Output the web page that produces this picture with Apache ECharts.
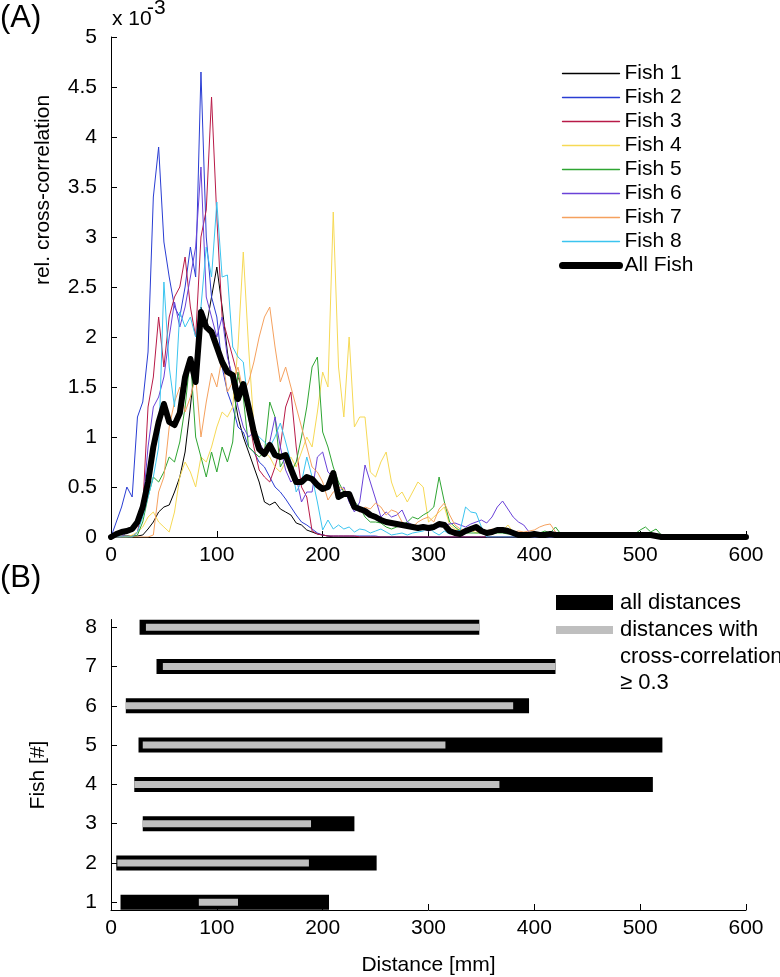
<!DOCTYPE html>
<html>
<head>
<meta charset="utf-8">
<script src="https://cdn.jsdelivr.net/npm/echarts@6/dist/echarts.min.js"></script>
<style>html,body{margin:0;padding:0;background:#fff}#c{width:780px;height:977px}</style>
</head>
<body>
<div id="c"></div>
<script>
// ---------- Panel A data (values in units of 1e-3) ----------
const distance = [
  0,5,10,15,20,25,30,35,40,45,
  50,55,60,65,70,75,80,85,90,95,
  100,105,110,115,120,125,130,135,140,145,
  150,155,160,165,170,175,180,185,190,195,
  200,205,210,215,220,225,230,235,240,245,
  250,255,260,265,270,275,280,285,290,295,
  300,305,310,315,320,325,330,335,340,345,
  350,355,360,365,370,375,380,385,390,395,
  400,405,410,415,420,425,430,435,440,445,
  450,455,460,465,470,475,480,485,490,495,
  500,505,510,515,520,525,530,535,540,545,
  550,555,560,565,570,575,580,585,590,595,
  600];

const fish1 = [
  0,0,0.01,0.01,0.01,0.01,0.02,0.08,0.15,0.25,
  0.3,0.32,0.45,0.6,0.85,1.3,1.8,2.3,2.1,2.4,
  2.7,2.3,1.85,1.5,1.2,1.0,0.85,0.7,0.55,0.35,
  0.32,0.35,0.28,0.25,0.22,0.14,0.12,0.07,0.05,0.03,
  0.02,0.01,0,0,0,0,0,0,0,0,
  0,0,0,0,0,0,0,0,0,0,
  0,0,0,0,0,0,0,0,0,0,
  0,0,0,0,0,0,0,0,0,0,
  0,0,0,0,0,0,0,0,0,0,
  0,0,0,0,0,0,0,0,0,0,
  0,0,0,0,0,0,0,0,0,0,
  0,0,0,0,0,0,0,0,0,0,
  0];
const fish2 = [
  0,0.15,0.3,0.5,0.4,1.2,1.35,1.85,3.4,3.9,
  2.95,2.6,2.3,2.2,2.5,2.9,2.6,4.65,3.0,2.4,
  2.2,1.7,1.45,1.3,1.1,1.05,0.9,0.85,0.75,0.7,
  0.6,0.5,0.45,0.38,0.3,0.22,0.15,0.12,0.08,0.04,
  0.02,0.01,0.01,0.01,0.01,0.01,0.01,0.01,0.01,0.01,
  0.01,0,0,0,0,0,0,0,0,0,
  0,0,0,0,0,0,0,0,0,0,
  0,0,0,0,0,0,0,0,0,0,
  0,0,0,0,0,0,0,0,0,0,
  0,0,0,0,0,0,0,0,0,0,
  0,0,0,0,0,0,0,0,0,0,
  0,0,0,0,0,0,0,0,0,0,
  0];
const fish3 = [
  0,0,0,0,0,0.05,0.3,1.3,1.6,2.2,
  1.7,2.2,2.4,2.5,2.8,2.3,2.0,3.0,3.27,4.4,
  3.2,2.2,2.0,1.8,1.6,1.45,1.2,0.9,0.67,0.6,
  0.55,0.7,0.9,1.3,1.45,0.9,0.5,0.4,0.06,0.03,
  0.02,0.01,0.01,0.01,0.01,0.01,0.01,0,0,0,
  0,0,0,0,0,0,0,0,0,0,
  0,0,0,0,0,0,0,0,0,0,
  0,0,0,0,0,0,0,0,0,0,
  0,0,0,0,0,0,0,0,0,0,
  0,0,0,0,0,0,0,0,0,0,
  0,0,0,0,0,0,0,0,0,0,
  0,0,0,0,0,0,0,0,0,0,
  0];
const fish4 = [
  0,0,0,0,0.02,0.05,0.1,0.2,0.25,0.15,
  0.1,0.05,0.25,0.6,0.75,0.65,0.5,0.8,0.75,0.9,
  1.1,1.25,1.2,1.3,1.9,2.85,1.9,1.1,0.9,0.85,
  0.8,0.7,0.65,0.75,0.8,0.7,0.85,1.0,0.9,1.25,
  1.65,1.5,3.25,1.7,1.2,2.0,1.1,1.2,1.2,0.65,
  0.6,0.75,0.85,0.55,0.4,0.45,0.35,0.45,0.55,0.5,
  0.15,0.2,0.25,0.3,0.12,0.08,0.07,0.05,0.07,0.04,
  0.05,0.06,0.06,0.07,0.06,0.12,0.05,0.04,0.03,0.03,
  0.02,0.03,0.02,0.02,0.03,0.02,0.02,0.02,0.02,0.02,
  0.02,0.02,0.02,0.02,0.02,0.02,0.02,0.02,0.02,0.02,
  0.02,0.02,0.01,0,0,0,0,0,0,0,
  0,0,0,0,0,0,0,0,0,0,
  0];
const fish5 = [
  0,0,0,0,0,0.02,0.15,0.4,0.6,0.55,
  0.65,0.8,0.75,0.95,1.3,1.8,1.0,0.8,0.6,0.85,
  0.65,0.9,0.75,0.95,1.65,1.4,0.9,0.85,0.8,0.85,
  1.35,1.2,0.7,0.8,0.65,0.75,1.0,1.3,1.7,1.8,
  1.05,0.9,0.7,0.55,0.45,0.4,0.35,0.3,0.2,0.15,
  0.15,0.14,0.1,0.08,0.1,0.12,0.15,0.2,0.18,0.22,
  0.25,0.3,0.6,0.35,0.15,0.1,0.06,0.04,0.04,0.04,
  0.04,0.04,0.03,0.04,0.04,0.03,0.04,0.04,0.03,0.04,
  0.04,0.04,0.06,0.04,0.1,0.03,0.02,0.02,0.02,0.02,
  0.02,0.02,0.02,0.02,0.02,0.02,0.02,0.02,0.02,0.03,
  0.07,0.1,0.05,0.08,0.02,0,0,0,0,0,
  0,0,0,0,0,0,0,0,0,0,
  0];
const fish6 = [
  0,0,0,0.05,0.1,0.15,0.3,0.9,1.3,1.4,
  1.6,2.0,2.35,2.1,2.3,2.6,2.9,3.7,2.4,2.2,
  2.0,2.2,1.8,1.6,1.3,1.1,1.0,1.05,0.95,0.85,
  0.95,1.2,0.9,0.67,0.55,0.6,0.35,0.45,0.45,0.8,
  0.85,0.65,0.6,0.45,0.5,0.35,0.25,0.35,0.72,0.55,
  0.38,0.2,0.25,0.2,0.22,0.27,0.15,0.12,0.1,0.08,
  0.06,0.08,0.1,0.12,0.13,0.14,0.12,0.1,0.13,0.15,
  0.17,0.14,0.2,0.3,0.36,0.28,0.2,0.15,0.12,0.05,
  0,0,0,0,0,0,0,0,0,0,
  0,0,0,0,0,0,0,0,0,0,
  0,0,0,0,0,0,0,0,0,0,
  0,0,0,0,0,0,0,0,0,0,
  0];
const fish7 = [
  0,0,0,0,0,0,0,0,0.02,0.45,
  0.6,1.1,1.35,1.5,1.25,1.4,1.6,1.0,1.35,1.64,
  1.5,1.8,1.45,1.55,1.7,1.45,1.55,1.75,2.0,2.2,
  2.3,1.9,1.55,1.7,1.5,1.3,1.1,0.9,0.7,0.65,
  0.55,0.37,0.45,0.5,0.48,0.4,0.3,0.25,0.3,0.28,
  0.34,0.3,0.22,0.27,0.25,0.15,0.12,0.1,0.15,0.18,
  0.2,0.15,0.28,0.34,0.22,0.12,0.08,0.07,0.1,0.06,
  0.05,0.06,0.08,0.05,0.06,0.07,0.05,0.06,0.05,0.06,
  0.07,0.1,0.12,0.13,0.05,0,0,0,0,0,
  0,0,0,0,0,0,0,0,0,0,
  0,0,0,0,0,0,0,0,0,0,
  0,0,0,0,0,0,0,0,0,0,
  0];
const fish8 = [
  0,0,0,0,0,0.05,0.2,0.4,0.6,0.9,
  2.55,1.7,1.3,2.25,2.1,2.2,2.0,2.3,2.9,2.6,
  3.35,2.6,2.62,1.9,1.8,1.75,1.3,1.05,1.0,0.95,
  0.9,1.0,1.14,0.95,0.75,0.45,0.55,0.8,0.6,0.35,
  0.07,0.17,0.08,0.12,0.08,0.1,0.05,0.08,0.07,0.04,
  0.06,0.08,0.05,0.02,0.03,0.04,0.02,0.04,0.05,0.06,
  0.1,0.05,0.02,0.06,0.03,0.05,0.07,0.3,0.25,0.24,
  0.1,0,0,0,0,0,0,0,0,0,
  0,0,0,0,0,0,0,0,0,0,
  0,0,0,0,0,0,0,0,0,0,
  0,0,0,0,0,0,0,0,0,0,
  0,0,0,0,0,0,0,0,0,0,
  0];
const allFish = [
  0,0.03,0.05,0.06,0.08,0.15,0.3,0.55,0.9,1.15,
  1.33,1.15,1.12,1.24,1.6,1.78,1.55,2.25,2.1,2.05,
  1.9,1.75,1.65,1.62,1.38,1.53,1.3,1.05,0.88,0.83,
  0.92,0.82,0.8,0.82,0.68,0.55,0.55,0.6,0.58,0.52,
  0.48,0.5,0.64,0.4,0.43,0.43,0.3,0.28,0.26,0.22,
  0.2,0.17,0.15,0.14,0.13,0.12,0.11,0.1,0.09,0.1,
  0.09,0.1,0.13,0.12,0.06,0.04,0.03,0.06,0.08,0.1,
  0.06,0.04,0.05,0.07,0.07,0.06,0.04,0.02,0.02,0.02,
  0.03,0.02,0.02,0.03,0.02,0.02,0.02,0.02,0.02,0.02,
  0.02,0.02,0.02,0.02,0.02,0.02,0.02,0.02,0.02,0.02,
  0.02,0.02,0.02,0.01,0,0,0,0,0,0,
  0,0,0,0,0,0,0,0,0,0,
  0];

const seriesNames = ['Fish 1','Fish 2','Fish 3','Fish 4','Fish 5','Fish 6','Fish 7','Fish 8','All Fish'];
const seriesValues = [fish1, fish2, fish3, fish4, fish5, fish6, fish7, fish8, allFish];
const seriesColors = ['#000000','#2a3dd3','#b81a47','#f6d955','#2ea532','#6a42d8','#f5a15e','#3bc4ef','#000000'];

// ---------- Panel B data (mm) ----------
const fishIds = [1, 2, 3, 4, 5, 6, 7, 8];
const allStart = [9, 5, 30, 22, 26, 14, 43, 27];
const allEnd = [206, 251, 230, 512, 521, 395, 420, 348];
const corrStart = [83, 6, 30, 22, 30, 14, 49, 33];
const corrEnd = [120, 187, 189, 367, 316, 380, 420, 348];

const FONT = '"Liberation Sans", Arial, sans-serif';

const chart = echarts.init(document.getElementById('c'), null, {renderer: 'canvas'});

const axisCommon = {
  axisLine: {show: true, onZero: false, lineStyle: {color: '#000', width: 1}},
  axisTick: {show: true, inside: true, length: 6, lineStyle: {color: '#000', width: 1}},
  splitLine: {show: false},
};

const lineSeries = seriesNames.map((name, k) => ({
  name: name,
  type: 'line',
  xAxisIndex: 0,
  yAxisIndex: 0,
  symbol: 'none',
  smooth: false,
  data: distance.map((d, i) => [d, seriesValues[k][i]]),
  lineStyle: {color: seriesColors[k], width: k === 8 ? 6 : 1, join: 'round', cap: 'round'},
  itemStyle: {color: seriesColors[k]},
  z: k === 8 ? 5 : 2,
  animation: false
}));

function barRenderer(h, fill) {
  return function (params, api) {
    const f = api.value(0);
    const a = api.coord([api.value(1), f]);
    const b = api.coord([api.value(2), f]);
    return {
      type: 'rect',
      shape: {x: a[0], y: a[1] - h / 2, width: b[0] - a[0], height: h},
      style: {fill: fill}
    };
  };
}

const legendData = seriesNames.map((name, k) => ({
  name: name,
  lineStyle: {width: k === 8 ? 7 : 1.3, color: seriesColors[k]},
  itemStyle: {opacity: 0}
}));

const option = {
  animation: false,
  backgroundColor: '#fff',
  textStyle: {fontFamily: FONT, color: '#000'},
  grid: [
    {left: 111, right: 34, top: 37, bottom: 440},
    {left: 111, right: 34, top: 619.5, bottom: 66}
  ],
  xAxis: [
    Object.assign({}, axisCommon, {
      gridIndex: 0, type: 'value', min: 0, max: 600, interval: 100,
      axisLabel: {fontSize: 21, color: '#000', margin: 8, fontFamily: FONT}
    }),
    Object.assign({}, axisCommon, {
      gridIndex: 1, type: 'value', min: 0, max: 600, interval: 100,
      axisLabel: {fontSize: 21, color: '#000', margin: 8, fontFamily: FONT},
      name: 'Distance [mm]', nameLocation: 'middle', nameGap: 45,
      nameTextStyle: {fontSize: 21, color: '#000', fontFamily: FONT}
    })
  ],
  yAxis: [
    Object.assign({}, axisCommon, {
      gridIndex: 0, type: 'value', min: 0, max: 5, interval: 0.5,
      axisLabel: {fontSize: 21, color: '#000', margin: 14, fontFamily: FONT}
    }),
    Object.assign({}, axisCommon, {
      gridIndex: 1, type: 'value', min: 0.8, max: 8.2,
      axisTick: {show: true, inside: true, length: 6, lineStyle: {color: '#000', width: 1}, customValues: fishIds},
      axisLabel: {fontSize: 21, color: '#000', margin: 14, fontFamily: FONT, customValues: fishIds}
    })
  ],
  legend: {
    data: legendData,
    orient: 'vertical',
    left: 559,
    top: 63,
    padding: 0,
    itemWidth: 57,
    itemHeight: 14,
    itemGap: 3,
    selectedMode: false,
    itemStyle: {opacity: 0},
    textStyle: {fontSize: 21, color: '#000', fontFamily: FONT, lineHeight: 20}
  },
  series: lineSeries.concat([
    {
      type: 'custom',
      name: 'all distances',
      xAxisIndex: 1, yAxisIndex: 1,
      data: fishIds.map((f, i) => [f, allStart[i], allEnd[i]]),
      encode: {x: [1, 2], y: 0},
      renderItem: barRenderer(15, '#000000'),
      z: 2
    },
    {
      type: 'custom',
      name: 'distances with cross-correlation ≥ 0.3',
      xAxisIndex: 1, yAxisIndex: 1,
      data: fishIds.map((f, i) => [f, corrStart[i], corrEnd[i]]),
      encode: {x: [1, 2], y: 0},
      renderItem: barRenderer(7, '#bfbfbf'),
      z: 3
    }
  ]),
  graphic: [
    {type: 'text', x: 0, y: 3, style: {text: '(A)', fontSize: 31, fontFamily: FONT, fill: '#000'}},
    {type: 'text', x: 112, y: 9, style: {text: 'x 10', fontSize: 21, fontFamily: FONT, fill: '#000'}},
    {type: 'text', x: 147, y: -2, style: {text: '-3', fontSize: 21, fontFamily: FONT, fill: '#000'}},
    {type: 'text', x: 43, y: 190, rotation: Math.PI / 2,
      style: {text: 'rel. cross-correlation', fontSize: 21, fontFamily: FONT, fill: '#000', align: 'center', verticalAlign: 'middle'}},
    {type: 'text', x: 0, y: 563, style: {text: '(B)', fontSize: 31, fontFamily: FONT, fill: '#000'}},
    {type: 'text', x: 38, y: 775, rotation: Math.PI / 2,
      style: {text: 'Fish [#]', fontSize: 21, fontFamily: FONT, fill: '#000', align: 'center', verticalAlign: 'middle'}},
    {type: 'rect', shape: {x: 556, y: 595, width: 57, height: 15}, style: {fill: '#000'}},
    {type: 'rect', shape: {x: 556, y: 626, width: 57, height: 8}, style: {fill: '#bfbfbf'}},
    {type: 'text', x: 620, y: 603, style: {text: 'all distances', fontSize: 22, fontFamily: FONT, fill: '#000', verticalAlign: 'middle'}},
    {type: 'text', x: 620, y: 630, style: {text: 'distances with', fontSize: 22, fontFamily: FONT, fill: '#000', verticalAlign: 'middle'}},
    {type: 'text', x: 620, y: 657, style: {text: 'cross-correlation', fontSize: 22, fontFamily: FONT, fill: '#000', verticalAlign: 'middle'}},
    {type: 'text', x: 620, y: 683, style: {text: '\u2265 0.3', fontSize: 22, fontFamily: FONT, fill: '#000', verticalAlign: 'middle'}}
  ]
};

chart.setOption(option);
</script>
</body>
</html>
